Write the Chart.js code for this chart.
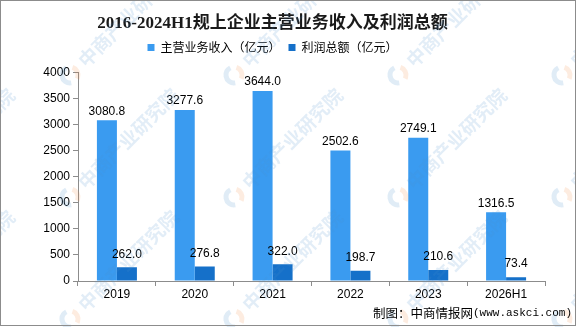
<!DOCTYPE html>
<html>
<head>
<meta charset="utf-8">
<script src="https://cdn.jsdelivr.net/npm/chart.js@4/dist/chart.umd.min.js"></script>
<style>
  html, body { margin: 0; padding: 0; background: #fff; }
  #wrap { width: 576px; height: 327px; }
</style>
</head>
<body>
<div id="wrap"><canvas id="mainChart" width="576" height="327"></canvas></div>
<script>
const years = ['2019', '2020', '2021', '2022', '2023', '2026H1'];
const revenue = [3080.8, 3277.6, 3644.0, 2502.6, 2749.1, 1316.5];
const profit = [262.0, 276.8, 322.0, 198.7, 210.6, 73.4];
const yTicks = [0, 500, 1000, 1500, 2000, 2500, 3000, 3500, 4000];

const numFont = "'Liberation Sans', 'DejaVu Sans', sans-serif";
const cjkFont = "'Noto Sans CJK SC', 'Liberation Sans', sans-serif";

// leave a little more room under the legend
const legendGap = {
    id: 'legendGap',
    afterInit(chart) {
        const fit = chart.legend.fit;
        chart.legend.fit = function () {
            fit.call(this);
            this.height += 9;
        };
    }
};

// value labels above each bar
const barLabels = {
    id: 'barLabels',
    afterDatasetsDraw(chart) {
        const ctx = chart.ctx;
        ctx.save();
        ctx.font = '12px ' + numFont;
        ctx.fillStyle = '#000';
        ctx.textAlign = 'center';
        ctx.textBaseline = 'middle';
        chart.data.datasets.forEach((ds, i) => {
            const lift = i === 0 ? 9 : 13;
            chart.getDatasetMeta(i).data.forEach((bar, j) => {
                ctx.fillText(ds.data[j].toFixed(1), bar.x, bar.y - lift);
            });
        });
        ctx.restore();
    }
};

// faint logo + name repeated across the canvas, frame and credit line
const decor = {
    id: 'decor',
    afterDraw(chart) {
        const ctx = chart.ctx;
        ctx.save();
        ctx.globalAlpha = 0.16;
        const xs = [-94, 70, 234, 398, 562];
        const ys = [-47, 75, 197, 319];
        xs.forEach(x => ys.forEach(y => {
            ctx.save();
            ctx.translate(x, y);
            ctx.lineWidth = 5;
            ctx.strokeStyle = '#3f86c8';
            ctx.beginPath();
            ctx.arc(0, 0, 8, Math.PI * 0.45, Math.PI * 1.35);
            ctx.stroke();
            ctx.strokeStyle = '#f08a3c';
            ctx.beginPath();
            ctx.arc(0, 0, 8, Math.PI * 1.6, Math.PI * 2.15);
            ctx.stroke();
            ctx.rotate(-Math.PI / 4);
            ctx.fillStyle = '#4a8fd0';
            ctx.font = 'bold 19px ' + cjkFont;
            ctx.textBaseline = 'middle';
            ctx.fillText('中商产业研究院', 16, 0);
            ctx.restore();
        }));
        ctx.restore();

        ctx.save();
        ctx.fillStyle = '#000';
        ctx.textAlign = 'right';
        ctx.textBaseline = 'middle';
        ctx.font = "11px 'Liberation Mono', monospace";
        const site = '(www.askci.com)';
        ctx.fillText(site, 572, 313);
        const w = ctx.measureText(site).width;
        ctx.font = '12.5px ' + cjkFont;
        ctx.fillText('制图：中商情报网', 572 - w, 313);
        ctx.strokeStyle = '#8c8c8c';
        ctx.lineWidth = 1;
        ctx.strokeRect(0.5, 0.5, 575, 325);
        ctx.restore();
    }
};

new Chart(document.getElementById('mainChart'), {
    type: 'bar',
    data: {
        labels: years,
        datasets: [{
            label: '主营业务收入（亿元）',
            data: revenue,
            backgroundColor: '#3a9bf0'
        }, {
            label: '利润总额（亿元）',
            data: profit,
            backgroundColor: '#1570c9'
        }]
    },
    options: {
        responsive: false,
        animation: false,
        layout: { padding: { left: 0, right: 31, top: 4, bottom: 0 } },
        datasets: {
            bar: { categoryPercentage: 0.514, barPercentage: 1.0 }
        },
        scales: {
            x: {
                grid: { drawOnChartArea: false, drawTicks: true, tickLength: 5, color: '#8c8c8c' },
                border: { color: '#8c8c8c' },
                ticks: { color: '#000', font: { family: numFont, size: 12 }, padding: 1 },
                afterFit(scale) { scale.height = 46; }
            },
            y: {
                min: 0,
                max: 4000,
                afterBuildTicks(scale) { scale.ticks = yTicks.map(v => ({ value: v })); },
                grid: { drawOnChartArea: false, drawTicks: true, tickLength: 5, color: '#8c8c8c' },
                border: { color: '#8c8c8c' },
                ticks: {
                    color: '#000',
                    font: { family: numFont, size: 12 },
                    padding: 3,
                    callback: v => String(v)
                },
                afterFit(scale) { scale.width = 78; }
            }
        },
        plugins: {
            title: {
                display: true,
                text: '2016-2024H1规上企业主营业务收入及利润总额',
                color: '#1a1a1a',
                font: { family: "'Liberation Serif', 'Noto Sans CJK SC', serif", size: 17, weight: 'bold' },
                padding: { top: 9, bottom: 0 }
            },
            legend: {
                labels: {
                    color: '#000',
                    font: { family: cjkFont, size: 12 },
                    boxWidth: 7,
                    boxHeight: 7,
                    padding: 8
                }
            },
            tooltip: { enabled: false }
        }
    },
    plugins: [legendGap, barLabels, decor]
});
</script>
</body>
</html>
